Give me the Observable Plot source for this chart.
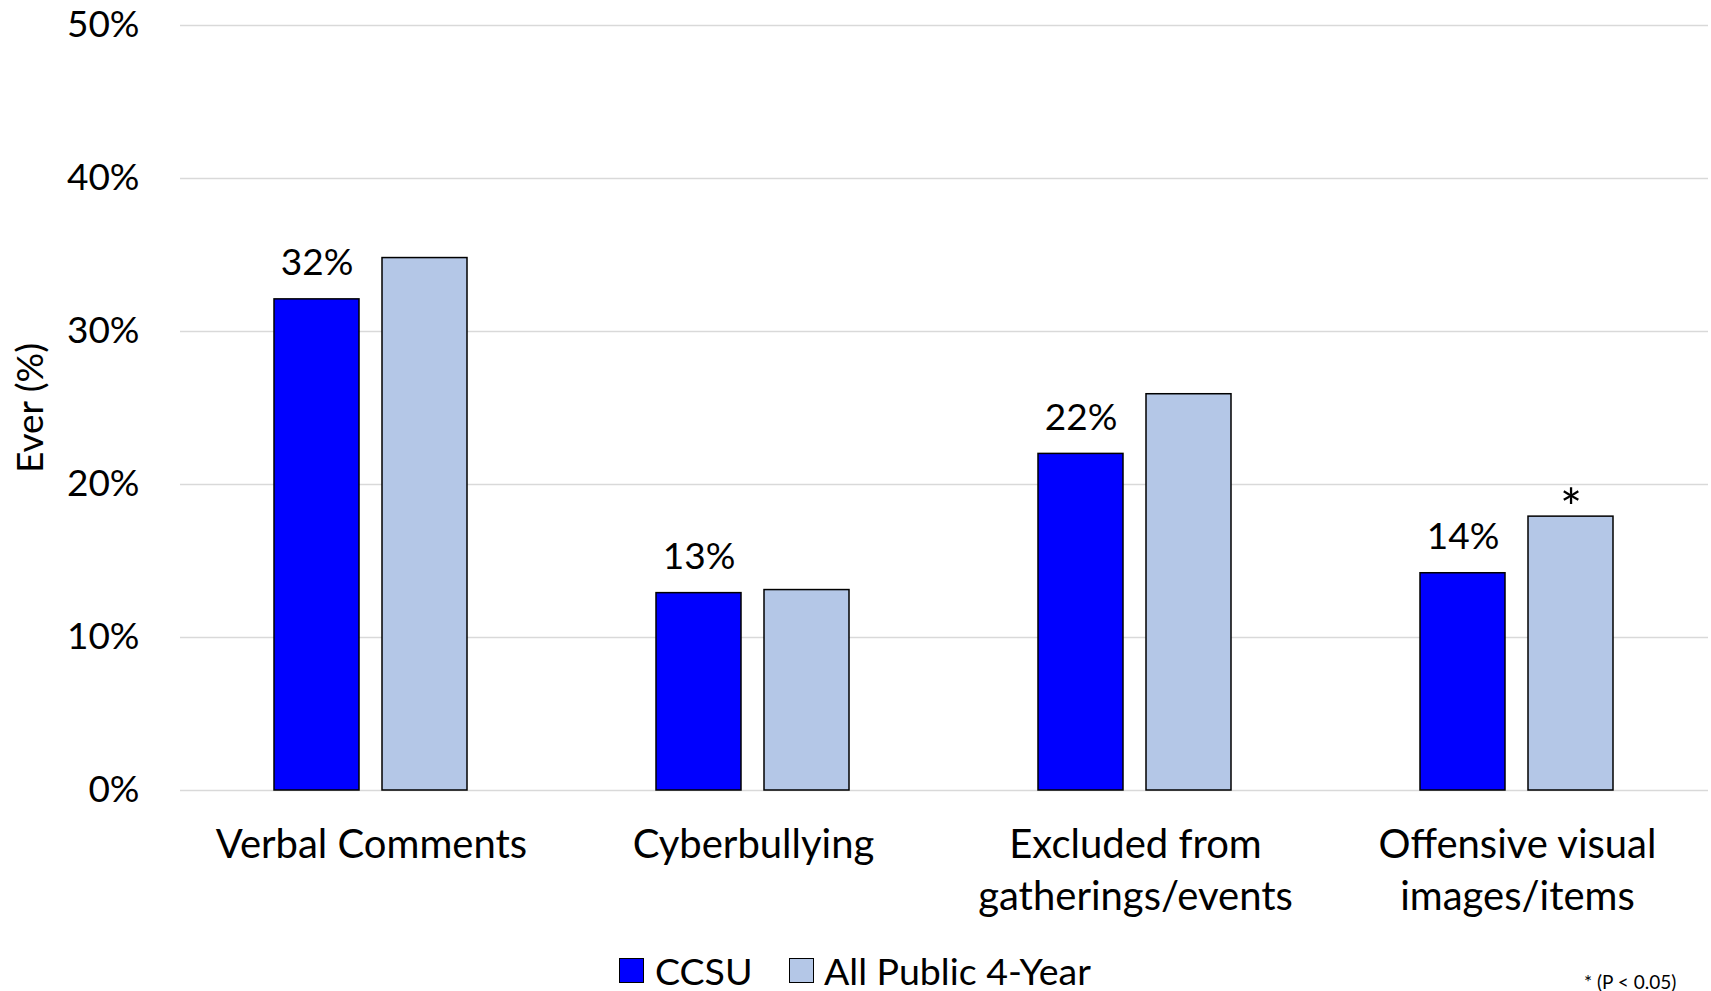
<!DOCTYPE html>
<html>
<head>
<meta charset="utf-8">
<script src="https://cdn.jsdelivr.net/npm/d3@7"></script>
<script src="https://cdn.jsdelivr.net/npm/@observablehq/plot@0.6"></script>
<style>
  html, body { margin: 0; padding: 0; background: white; }
  body { width: 1711px; height: 991px; overflow: hidden; font-family: Lato, sans-serif; color: black; }
  #legend { position: relative; width: 1711px; height: 51px; }
  .sw { position: absolute; width: 23px; height: 23px; border: 1.5px solid black; box-sizing: content-box; }
  .lt { position: absolute; font-size: 37.5px; line-height: 1; white-space: nowrap; }
  #note { position: absolute; font-size: 19px; white-space: nowrap; line-height: 1; }
</style>
</head>
<body>
<div id="chart"></div>
<div id="legend"></div>
<script>
const categories = ["Verbal Comments", "Cyberbullying", "Excluded from\ngatherings/events", "Offensive visual\nimages/items"];
const series = ["CCSU", "All Public 4-Year"];
const ccsuValues = [32.1, 12.9, 22.0, 14.2];
const allPublicValues = [34.8, 13.1, 25.9, 17.9];
const ccsuLabels = ["32%", "13%", "22%", "14%"];
const significant = [false, false, false, true];
const yTicks = [0, 10, 20, 30, 40, 50];
const colors = ["#0000ff", "#b4c7e7"];

const rows = [];
categories.forEach((c, i) => {
  rows.push({category: c, series: series[0], value: ccsuValues[i], label: ccsuLabels[i], sig: false});
  rows.push({category: c, series: series[1], value: allPublicValues[i], label: "", sig: significant[i]});
});
const labelRows = rows.filter(d => d.series === series[0]);
const sigRows = rows.filter(d => d.sig);

const chart = Plot.plot({
  width: 1711,
  height: 940,
  marginTop: 25,
  marginBottom: 150,
  marginLeft: 178,
  marginRight: 2,
  style: {fontFamily: "Lato, sans-serif", fontSize: "37px", color: "black", background: "white"},
  fx: {domain: categories, padding: 0, label: null},
  x: {domain: series, paddingInner: 0.211, paddingOuter: 0.862, axis: null},
  y: {domain: [0, 50]},
  color: {domain: series, range: colors},
  marks: [
    Plot.ruleY(yTicks, {stroke: "#d9d9d9", strokeWidth: 1.5}),
    Plot.barY(rows, {fx: "category", x: "series", y: "value", fill: "series", stroke: "black", strokeWidth: 1.5}),
    Plot.text(labelRows, {fx: "category", x: "series", y: "value", text: "label", lineAnchor: "middle", dy: -36, fontSize: 37}),
    Plot.text(sigRows, {fx: "category", x: "series", y: "value", text: () => "*", lineAnchor: "middle", dy: -6, fontSize: 52}),
    Plot.axisY({ticks: yTicks, tickFormat: d => d + "%", tickSize: 0, tickPadding: 41, fontSize: 37,
      label: "Ever (%)", labelAnchor: "center", labelArrow: "none", labelOffset: 164}),
    Plot.axisFx({anchor: "bottom", tickSize: 0, tickPadding: 30, fontSize: 40, lineHeight: 1.31, label: null})
  ]
});
document.getElementById("chart").appendChild(chart);

const legend = document.getElementById("legend");
const legendItems = [
  {name: series[0], color: colors[0], sx: 619, tx: 655},
  {name: series[1], color: colors[1], sx: 789, tx: 824}
];
legendItems.forEach(it => {
  const sw = document.createElement("div");
  sw.className = "sw";
  sw.style.left = it.sx + "px";
  sw.style.top = "18px";
  sw.style.background = it.color;
  legend.appendChild(sw);
  const t = document.createElement("div");
  t.className = "lt";
  t.style.left = it.tx + "px";
  t.style.top = "12px";
  t.textContent = it.name;
  legend.appendChild(t);
});
const note = document.createElement("div");
note.id = "note";
note.style.left = "1584px";
note.style.top = "32px";
note.textContent = "* (P < 0.05)";
legend.appendChild(note);
</script>
</body>
</html>
